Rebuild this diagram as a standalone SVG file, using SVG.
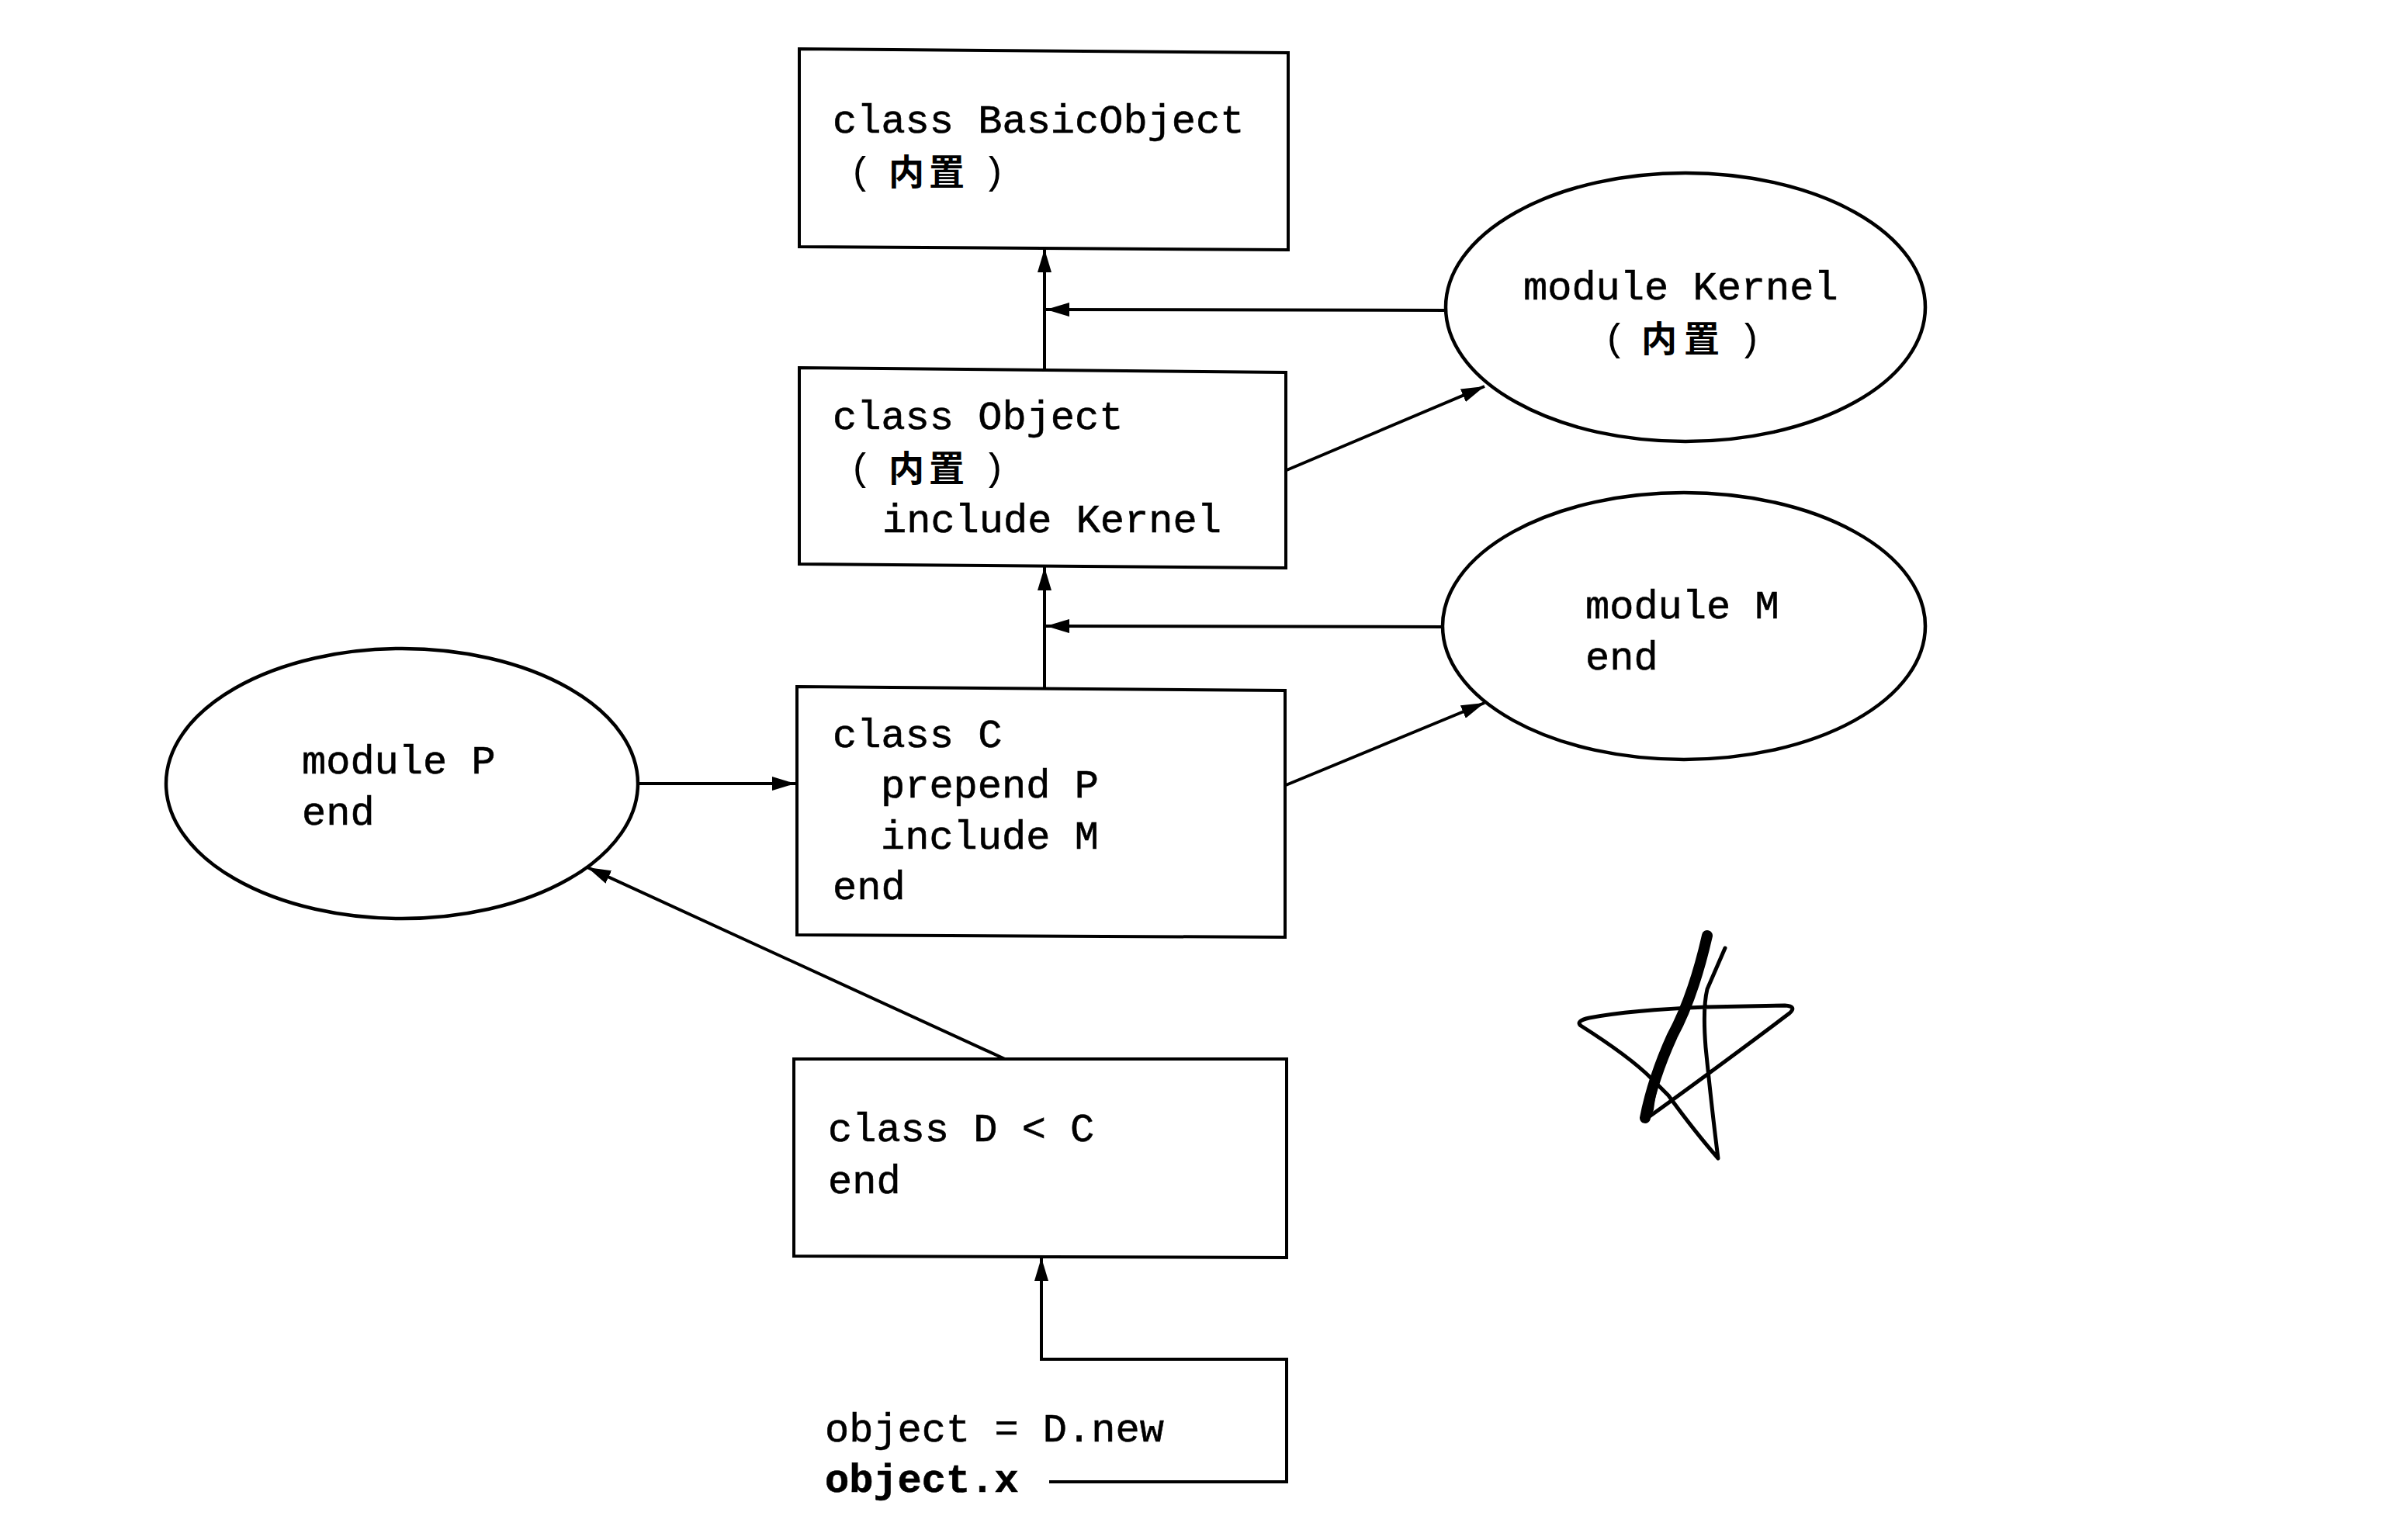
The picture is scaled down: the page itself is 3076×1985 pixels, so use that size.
<svg xmlns="http://www.w3.org/2000/svg" width="3076" height="1985" viewBox="0 0 3076 1985">
  <style>
    .box { fill: #fff; stroke: #000; stroke-width: 4; stroke-linejoin: miter; }
    .oval { fill: #fff; stroke: #000; stroke-width: 4.5; }
    .code { font-family: "Liberation Mono", "Courier New", monospace; font-size: 52px; fill: #000; stroke: #000; stroke-width: 0.6; }
    .bold { font-weight: 700; }
    .paren { font-family: "Liberation Mono", "Courier New", monospace; font-size: 50px; fill: #000; text-anchor: middle; }
    .cjk { font-family: "Noto Sans CJK SC", "Noto Sans CJK JP", sans-serif; font-size: 46px; font-weight: 700; fill: #000; text-anchor: middle; }
    .link { fill: none; stroke: #000; stroke-width: 4; marker-end: url(#arrow); }
    .pen { fill: none; stroke: #000; stroke-width: 5; stroke-linecap: round; stroke-linejoin: round; }
  </style>
  <defs>
    <marker id="arrow" viewBox="0 0 30 18" refX="30" refY="9" markerWidth="30" markerHeight="18" markerUnits="userSpaceOnUse" orient="auto">
      <path d="M0,0 L30,9 L0,18 Z" fill="#000"/>
    </marker>
  </defs>

  <rect width="3076" height="1985" fill="#fff"/>

  <!-- connectors -->
  <g id="connectors">
    <path class="link" d="M1346,476 L1346,321"/>
    <path class="link" d="M1864,400 L1348,399"/>
    <path class="link" d="M1658,606 L1913,498"/>
    <path class="link" d="M1346,887 L1346,731"/>
    <path class="link" d="M1860,808 L1348,807"/>
    <path class="link" d="M1657,1012 L1913,906"/>
    <path class="link" d="M822,1010 L1025,1010"/>
    <path class="link" d="M1295,1365 L757,1118"/>
    <path class="link" d="M1352,1910 L1658,1910 L1658,1752 L1342,1752 L1342,1621"/>
  </g>

  <!-- class BasicObject -->
  <g id="basic-object">
    <path class="box" d="M1030,63 L1660,68 L1660,322 L1030,318 Z"/>
    <text class="code" x="1073" y="171">class BasicObject</text>
    <text class="paren" x="1109" y="237">(</text>
    <text class="cjk" x="1168" y="238">内</text>
    <text class="cjk" x="1220" y="238">置</text>
    <text class="paren" x="1281" y="237">)</text>
  </g>

  <!-- class Object -->
  <g id="object">
    <path class="box" d="M1030,474 L1657,480 L1657,732 L1030,727 Z"/>
    <text class="code" x="1073" y="553">class Object</text>
    <text class="paren" x="1109" y="619">(</text>
    <text class="cjk" x="1168" y="620">内</text>
    <text class="cjk" x="1220" y="620">置</text>
    <text class="paren" x="1281" y="619">)</text>
    <text class="code" x="1137" y="686">include Kernel</text>
  </g>

  <!-- module Kernel -->
  <g id="kernel">
    <ellipse class="oval" cx="2172" cy="396" rx="309" ry="173"/>
    <text class="code" x="1963" y="386">module Kernel</text>
    <text class="paren" x="2081" y="452">(</text>
    <text class="cjk" x="2138" y="453">内</text>
    <text class="cjk" x="2193" y="453">置</text>
    <text class="paren" x="2255" y="452">)</text>
  </g>

  <!-- module M -->
  <g id="module-m">
    <ellipse class="oval" cx="2170" cy="807" rx="311" ry="172"/>
    <text class="code" x="2043" y="797">module M</text>
    <text class="code" x="2043" y="863">end</text>
  </g>

  <!-- class C -->
  <g id="class-c">
    <path class="box" d="M1027,885 L1656,890 L1656,1208 L1027,1205 Z"/>
    <text class="code" x="1073" y="963">class C</text>
    <text class="code" x="1135" y="1028">prepend P</text>
    <text class="code" x="1135" y="1094">include M</text>
    <text class="code" x="1073" y="1159">end</text>
  </g>

  <!-- module P -->
  <g id="module-p">
    <ellipse class="oval" cx="518" cy="1010" rx="304" ry="174"/>
    <text class="code" x="389" y="997">module P</text>
    <text class="code" x="389" y="1063">end</text>
  </g>

  <!-- class D < C -->
  <g id="class-d">
    <path class="box" d="M1023,1365 L1658,1365 L1658,1621 L1023,1619 Z"/>
    <text class="code" x="1067" y="1471">class D &lt; C</text>
    <text class="code" x="1067" y="1538">end</text>
  </g>

  <!-- caller code -->
  <g id="caller">
    <text class="code" x="1063" y="1858">object = D.new</text>
    <text class="code bold" x="1063" y="1923">object.x</text>
  </g>

  <!-- hand-drawn star mark -->
  <g id="star">
    <path class="pen" d="M2120,1443 Q2205,1382 2306,1306 Q2316,1297 2300,1296 L2200,1298 Q2100,1302 2048,1312 Q2030,1316 2037,1322 Q2100,1362 2128,1390 L2150,1412 Q2185,1460 2214,1493 Q2206,1430 2198,1350 Q2194,1300 2200,1275 L2223,1222"/>
    <path class="pen" d="M2200,1206 Q2182,1285 2155,1335 Q2130,1390 2120,1441" style="stroke-width:14"/>
    <path class="pen" d="M2193,1240 Q2170,1305 2146,1352 Q2130,1395 2126,1430" style="stroke-width:10"/>
  </g>
</svg>
